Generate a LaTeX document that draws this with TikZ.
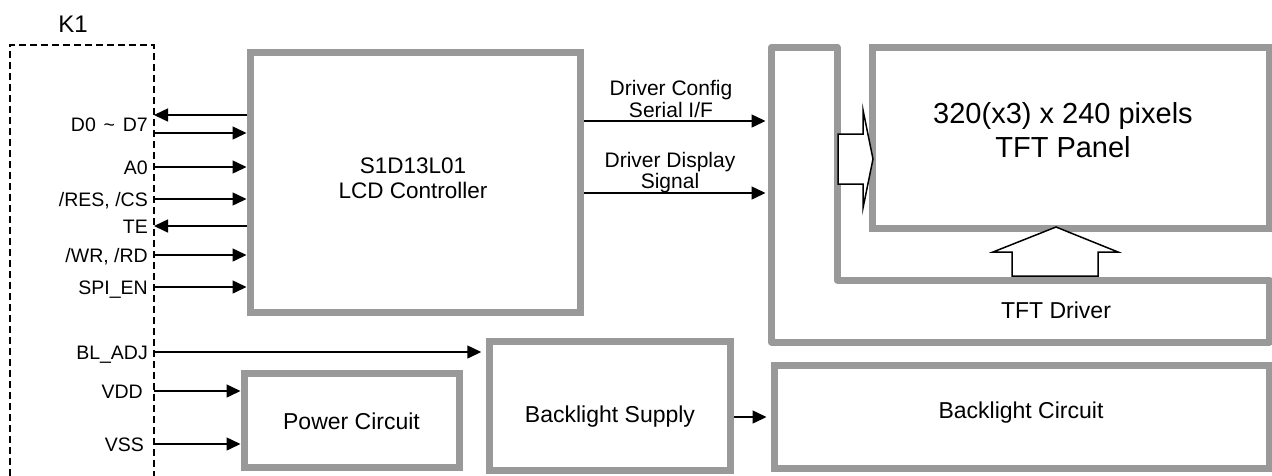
\documentclass[tikz,border=0pt]{standalone}
\usepackage{fontspec}
\setmainfont{Liberation Sans}
\usetikzlibrary{arrows.meta,calc}
\begin{document}
\begin{tikzpicture}[x=1pt,y=-1pt,
  gbox/.style={draw=black!40, line width=7pt, minimum width=#1},
  arr/.style={line width=1.5pt, -{Triangle[length=14pt,width=13pt]}},
  pin/.style={anchor=base east, inner sep=0pt, font=\fontsize{19.5}{21}\selectfont},
  txt/.style={anchor=base, inner sep=0pt},
  fat/.style={draw=black, line width=1.5pt, fill=white, line join=miter}
]
\useasboundingbox (0,0) rectangle (1272,475);
% K1 dashed connector box
\draw[line width=1.6pt, dash pattern=on 7pt off 4pt] (10,476) -- (10,45) -- (154,45) -- (154,476);
\node[txt, font=\fontsize{24}{26}\selectfont] (k1) at (73,32) {K1};

% boxes
\node[gbox=330pt, minimum height=260pt] (lcd) at (415,182) {};
\node[gbox=215pt, minimum height=94pt] (pwr) at (351.5,420) {};
\node[gbox=240.5pt, minimum height=128.5pt] (bls) at (610,406) {};
\node[gbox=495pt, minimum height=103.5pt] (blc) at (1021.5,417) {};
\node[gbox=397pt, minimum height=181pt] (panel) at (1070.5,137.5) {};
% TFT driver outline
\coordinate (drvL) at (771.5,47);
\draw[draw=black!40, line width=7pt, line join=round] (drvL) -- (837,47) -- (837,280) -- (1269,280) -- (1269,342) -- (771.5,342) -- cycle;

% texts in boxes
\node[txt, font=\fontsize{22.5}{25}\selectfont] (lcdt1) at (413,173) {S1D13L01};
\node[txt, font=\fontsize{22.5}{25}\selectfont] (lcdt2) at (413,198) {LCD Controller};
\node[txt, font=\fontsize{23}{25}\selectfont] (pwrt) at (351.5,429) {Power Circuit};
\node[txt, font=\fontsize{23}{25}\selectfont] (blst) at (610,422) {Backlight Supply};
\node[txt, font=\fontsize{23}{25}\selectfont] (blct) at (1021,418) {Backlight Circuit};
\node[txt, font=\fontsize{23}{25}\selectfont] (drvt) at (1056,318) {TFT Driver};
\node[txt, font=\fontsize{29}{32}\selectfont] (pt1) at (1063,123) {320(x3) x 240 pixels};
\node[txt, font=\fontsize{29}{32}\selectfont] (pt2) at (1063,157) {TFT Panel};
\node[txt, font=\fontsize{21}{23}\selectfont] (dc1) at (671,95) {Driver Config};
\node[txt, font=\fontsize{21}{23}\selectfont] (dc2) at (671,117) {Serial I/F};
\node[txt, font=\fontsize{21}{23}\selectfont] (dd1) at (670,167) {Driver Display};
\node[txt, font=\fontsize{21}{23}\selectfont] (dd2) at (670,188) {Signal};

% pin labels
\node[pin] (lD) at (148,131) {D0\hspace{0.4em}\textasciitilde\hspace{0.4em}D7};
\node[pin] (lA) at (148,174) {A0};
\node[pin] (lR) at (148,206) {/RES, /CS};
\node[pin] (lT) at (148,233) {TE};
\node[pin] (lW) at (148,262) {/WR, /RD};
\node[pin] (lS) at (148,294) {SPI\_EN};
\node[pin] (lB) at (148,359) {BL\_ADJ};
\node[pin] (lV) at (143,398) {VDD};
\node[pin] (lG) at (144,451) {VSS};

% pin points on K1
\coordinate (pDi) at (154,115);
\coordinate (pDo) at (154,133);
\coordinate (pA) at (154,167);
\coordinate (pR) at (154,199);
\coordinate (pT) at (154,226);
\coordinate (pW) at (154,255);
\coordinate (pS) at (154,287);
\coordinate (pB) at (154,352);
\coordinate (pV) at (154,391);
\coordinate (pG) at (154,444);

\draw[arr] (pDi -| lcd.west) -- (pDi);
\draw[arr] (pDo) -- (pDo -| lcd.west);
\draw[arr] (pA) -- (pA -| lcd.west);
\draw[arr] (pR) -- (pR -| lcd.west);
\draw[arr] (pT -| lcd.west) -- (pT);
\draw[arr] (pW) -- (pW -| lcd.west);
\draw[arr] (pS) -- (pS -| lcd.west);
\draw[arr, shorten >=5pt] (pB) -- (pB -| bls.west);
\draw[arr] (pV) -- (pV -| pwr.west);
\draw[arr] (pG) -- (pG -| pwr.west);

% driver signals
\coordinate (dcY) at (580,121);
\coordinate (ddY) at (580,193);
\draw[arr, shorten >=6pt] (dcY -| lcd.east) -- (dcY -| drvL);
\draw[arr, shorten >=6pt] (ddY -| lcd.east) -- (ddY -| drvL);

% backlight
\draw[arr, shorten >=4pt] (blc.west -| bls.east) -- (blc.west);

% fat arrows
\draw[fat] (838,134) -- (863,134) -- (863,110) -- (873,159) -- (863,208) -- (863,184) -- (838,184) -- cycle;
\draw[fat] (1012,276) -- (1012,252) -- (993,252) -- (1056,227) -- (1118,252) -- (1098,252) -- (1098,276) -- cycle;
\end{tikzpicture}
\end{document}
